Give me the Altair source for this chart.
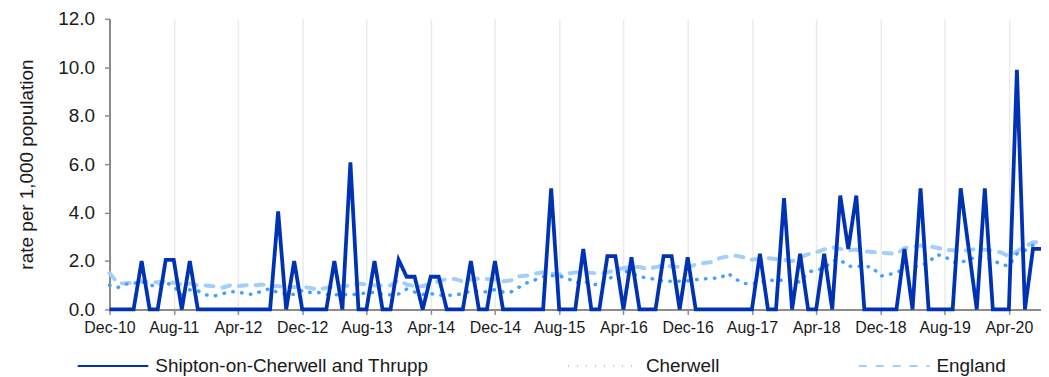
import json
import altair as alt
import pandas as pd

# ---- data ----
months = pd.date_range("2010-12-01", periods=117, freq="MS").strftime("%b-%y").tolist()
tick_labels = months[::8]

shipton = [
    0, 0, 0, 0, 2.0, 0, 0, 2.05, 2.05, 0,
    2.0, 0, 0, 0, 0, 0, 0, 0, 0, 0,
    0, 4.05, 0, 2.0, 0, 0, 0, 0, 2.0, 0,
    6.07, 0, 0, 2.0, 0, 0, 2.05, 1.35, 1.35, 0,
    1.35, 1.35, 0, 0, 0, 2.0, 0, 0, 2.0, 0,
    0, 0, 0, 0, 0, 5.0, 0, 0, 0, 2.5,
    0, 0, 2.2, 2.2, 0, 2.15, 0, 0, 0, 2.2,
    2.2, 0, 2.15, 0, 0, 0, 0, 0, 0, 0,
    0, 2.3, 0, 0, 4.6, 0, 2.3, 0, 0, 2.3,
    0, 4.7, 2.5, 4.7, 0, 0, 0, 0, 0, 2.5,
    0, 5.0, 0, 0, 0, 0, 5.0, 2.5, 0, 5.0,
    0, 0, 0, 9.9, 0, 2.5, 2.5,
]

cherwell = [
    1.00, 0.90, 1.05, 1.07, 1.16, 1.00, 0.96, 1.12, 0.95, 0.60,
    0.81, 0.77, 0.60, 0.55, 0.64, 0.73, 0.73, 0.64, 0.62, 0.77,
    0.86, 0.68, 0.64, 0.62, 0.78, 0.70, 0.70, 0.62, 0.60, 0.62,
    0.60, 0.64, 0.68, 0.71, 0.62, 0.60, 0.64, 0.84, 0.72, 0.62,
    0.65, 0.59, 0.59, 0.59, 0.66, 0.75, 0.75, 0.72, 0.82, 0.72,
    0.72, 0.92, 1.10, 1.22, 1.35, 1.40, 1.37, 1.30, 1.10, 1.16,
    1.07, 0.99, 1.20, 1.45, 1.60, 1.50, 1.35, 1.30, 1.24, 1.17,
    1.16, 1.16, 1.18, 1.23, 1.26, 1.30, 1.28, 1.50, 1.25, 1.07,
    1.07, 1.10, 1.22, 1.18, 1.22, 1.22, 1.12, 1.55, 1.62, 1.70,
    2.00, 2.05, 1.78, 1.78, 1.78, 1.75, 1.37, 1.44, 1.51, 1.71,
    1.75, 1.80, 1.95, 2.26, 2.20, 1.95, 1.95, 2.03, 2.20, 2.15,
    2.05, 1.85, 1.80, 2.30, 2.44, 2.65, 2.70,
]

england = [
    1.50, 1.10, 1.07, 1.12, 1.16, 1.14, 1.12, 1.16, 1.10, 1.03,
    1.07, 0.99, 0.99, 0.96, 0.89, 0.99, 0.96, 1.00, 0.99, 1.03,
    0.99, 0.96, 0.93, 0.93, 0.93, 0.89, 0.82, 0.89, 0.96, 0.96,
    0.99, 1.07, 1.03, 0.99, 0.99, 0.99, 1.21, 1.03, 0.96, 0.96,
    1.07, 1.16, 1.26, 1.26, 1.16, 1.23, 1.27, 1.26, 1.23, 1.16,
    1.20, 1.37, 1.40, 1.48, 1.53, 1.48, 1.44, 1.48, 1.53, 1.53,
    1.51, 1.48, 1.53, 1.62, 1.71, 1.75, 1.75, 1.67, 1.75, 1.81,
    1.78, 1.75, 1.75, 1.85, 1.92, 1.95, 2.12, 2.19, 2.22, 2.15,
    2.05, 2.10, 2.12, 2.08, 2.05, 1.99, 2.15, 2.28, 2.36, 2.48,
    2.57, 2.50, 2.44, 2.47, 2.40, 2.37, 2.34, 2.32, 2.29, 2.53,
    2.58, 2.64, 2.62, 2.55, 2.47, 2.44, 2.40, 2.45, 2.50, 2.47,
    2.42, 2.36, 2.19, 2.40, 2.60, 2.77, 2.77,
]

series_names = ["Shipton-on-Cherwell and Thrupp", "Cherwell", "England"]
series_colors = ["#0033b4", "#45a2fa", "#a3cdfb"]
series_dash = [[1, 0], [0.5, 8.5], [8, 9]]

frames = []
for name, vals in zip(series_names, [shipton, cherwell, england]):
    frames.append(pd.DataFrame({
        "idx": list(range(len(vals))),
        "month": months[:len(vals)],
        "series": name,
        "rate": vals,
    }))
df = pd.concat(frames, ignore_index=True)

label_expr = json.dumps(tick_labels) + "[round(datum.value / 8)]"

x_enc = alt.X(
    "idx:Q",
    scale=alt.Scale(domain=[0, 116], nice=False, zero=False),
    axis=alt.Axis(
        values=list(range(0, 113, 8)),
        labelExpr=label_expr,
        title=None,
        grid=True,
        gridColor="#ebebeb",
        gridWidth=1.5,
        domainColor="#8c8c8c",
        domainWidth=2,
        tickColor="#8c8c8c",
        tickSize=5,
        tickWidth=1.5,
        labelFontSize=16,
        labelPadding=5,
        labelColor="#1a1a1a",
        labelFlush=False,
    ),
)
y_enc = alt.Y(
    "rate:Q",
    scale=alt.Scale(domain=[0, 12], nice=False),
    axis=alt.Axis(
        values=[0, 2, 4, 6, 8, 10, 12],
        format=".1f",
        title="rate per 1,000 population",
        grid=False,
        domainColor="#8c8c8c",
        domainWidth=2,
        tickColor="#8c8c8c",
        tickSize=5,
        tickWidth=1.5,
        labelFontSize=19,
        labelPadding=10,
        labelColor="#1a1a1a",
        titleFontSize=19,
        titleFontWeight="normal",
        titleColor="#1a1a1a",
        titlePadding=21,
    ),
)
legend_opts = dict(
    title=None,
    orient="none",
    direction="horizontal",
    legendX=-33,
    legendY=312,
    symbolType="stroke",
    symbolSize=5041,
    symbolStrokeWidth=2,
    labelFontSize=19,
    labelColor="#1a1a1a",
    labelOffset=6,
    labelLimit=0,
    columnPadding=136,
    padding=0,
)
color_enc = alt.Color(
    "series:N",
    scale=alt.Scale(domain=series_names, range=series_colors),
    legend=alt.Legend(**legend_opts),
)
dash_enc = alt.StrokeDash(
    "series:N",
    scale=alt.Scale(domain=series_names, range=series_dash),
    legend=alt.Legend(**legend_opts),
)

base = alt.Chart(df).encode(x=x_enc, y=y_enc, color=color_enc, strokeDash=dash_enc)

eng_layer = base.transform_filter(alt.datum.series == "England").mark_line(
    strokeWidth=4, strokeCap="round")
che_layer = base.transform_filter(alt.datum.series == "Cherwell").mark_line(
    strokeWidth=3.5, strokeCap="round")
shi_layer = base.transform_filter(
    alt.datum.series == "Shipton-on-Cherwell and Thrupp").mark_line(
    strokeWidth=3.8, strokeJoin="miter")

chart = alt.layer(eng_layer, che_layer, shi_layer).properties(
    width=936,
    height=292,
    autosize=alt.AutoSizeParams(type="none"),
    padding={"left": 102, "top": 10, "right": 0, "bottom": 66},
).configure(
    font="Liberation Sans",
).configure_view(
    stroke=None,
)

chart.save("out.html", embed_options={"renderer": "svg", "actions": False})
